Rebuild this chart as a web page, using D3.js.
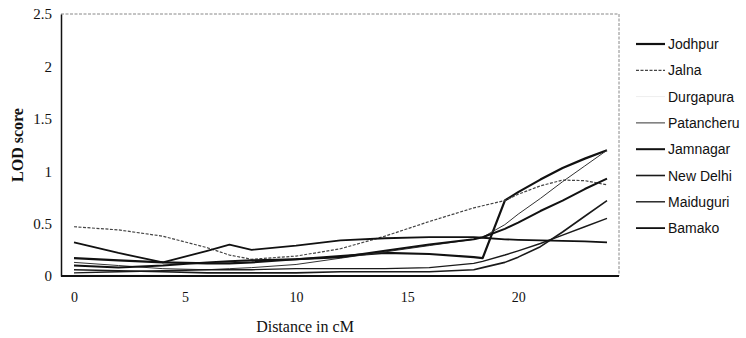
<!DOCTYPE html>
<html>
<head>
<meta charset="utf-8">
<script src="https://cdn.jsdelivr.net/npm/d3@7"></script>
<style>
  html, body { margin: 0; padding: 0; background: #fff; }
  svg { display: block; }
</style>
</head>
<body>
<svg id="chart" width="746" height="338"></svg>
<script>
// Map positions (cM) at which LOD scores were computed
const distance = [0, 2, 4, 6, 7, 8, 10, 12, 14, 16, 18, 18.4, 19.4, 20, 21, 22, 23, 24];

// LOD score per location
const jodhpur    = [0.17, 0.15, 0.13, 0.12, 0.12, 0.13, 0.16, 0.19, 0.22, 0.21, 0.18, 0.17, 0.72, 0.80, 0.92, 1.03, 1.12, 1.20];
const jalna      = [0.47, 0.44, 0.38, 0.27, 0.20, 0.16, 0.19, 0.26, 0.38, 0.52, 0.65, 0.67, 0.72, 0.78, 0.86, 0.915, 0.91, 0.87];
const durgapura  = [0.01, 0.01, 0.01, 0.00, 0.00, 0.00, 0.00, 0.00, 0.00, 0.00, 0.00, 0.00, 0.00, 0.00, 0.00, 0.00, 0.00, 0.00];
const patancheru = [0.13, 0.10, 0.07, 0.06, 0.07, 0.08, 0.11, 0.17, 0.23, 0.29, 0.35, 0.37, 0.49, 0.59, 0.74, 0.90, 1.05, 1.20];
const jamnagar   = [0.10, 0.08, 0.10, 0.13, 0.14, 0.15, 0.16, 0.18, 0.24, 0.30, 0.35, 0.37, 0.45, 0.51, 0.62, 0.72, 0.83, 0.93];
const newDelhi   = [0.06, 0.05, 0.04, 0.03, 0.03, 0.03, 0.03, 0.04, 0.04, 0.04, 0.06, 0.08, 0.13, 0.18, 0.28, 0.42, 0.57, 0.72];
const maiduguri  = [0.03, 0.04, 0.05, 0.06, 0.06, 0.06, 0.07, 0.07, 0.07, 0.08, 0.12, 0.14, 0.20, 0.24, 0.31, 0.39, 0.47, 0.55];
const bamako     = [0.32, 0.22, 0.13, 0.24, 0.30, 0.25, 0.29, 0.34, 0.36, 0.37, 0.37, 0.365, 0.35, 0.345, 0.34, 0.335, 0.33, 0.32];

const locations = ["Jodhpur", "Jalna", "Durgapura", "Patancheru", "Jamnagar", "New Delhi", "Maiduguri", "Bamako"];
const scores = [jodhpur, jalna, durgapura, patancheru, jamnagar, newDelhi, maiduguri, bamako];

const xTicks = [0, 5, 10, 15, 20];
const yTicks = [0, 0.5, 1, 1.5, 2, 2.5];
const yTickLabels = ["0", "0.5", "1", "1.5", "2", "2.5"];

// Stroke style for each location
const styles = [
  { color: "#111", width: 2.2, dash: null },
  { color: "#444", width: 1.2, dash: "3,1.5" },
  { color: "#eee", width: 1, dash: null },
  { color: "#333", width: 1, dash: null },
  { color: "#111", width: 2, dash: null },
  { color: "#1a1a1a", width: 1.6, dash: null },
  { color: "#1a1a1a", width: 1.4, dash: null },
  { color: "#111", width: 1.8, dash: null }
];

const svg = d3.select("#chart");
const frame = { left: 61, right: 619, top: 14, bottom: 276 };

const x = d3.scaleLinear().domain([0, 24]).range([74, 607]);
const y = d3.scaleLinear().domain([0, 2.5]).range([frame.bottom, frame.top]);

// Frame: dotted top and right edges
svg.append("path")
  .attr("d", `M${frame.left},${frame.top}H${frame.right}V${frame.bottom}`)
  .attr("fill", "none")
  .attr("stroke", "#888")
  .attr("stroke-width", 1)
  .attr("stroke-dasharray", "3,1.5");

// Series lines
const line = d3.line()
  .x((d, i) => x(distance[i]))
  .y(d => y(d))
  .curve(d3.curveLinear);

scores.forEach((vals, k) => {
  const s = styles[k];
  svg.append("path")
    .datum(vals)
    .attr("d", line)
    .attr("fill", "none")
    .attr("stroke", s.color)
    .attr("stroke-width", s.width)
    .attr("stroke-dasharray", s.dash)
    .attr("stroke-linejoin", "round");
});

// Y axis
const yAxis = svg.append("g")
  .attr("transform", `translate(${frame.left},0)`)
  .call(d3.axisLeft(y).tickValues(yTicks).tickSize(0).tickPadding(9)
    .tickFormat((d, i) => yTickLabels[i]));
yAxis.select(".domain").attr("stroke", "#111").attr("stroke-width", 1.5);
yAxis.selectAll("text")
  .attr("font-family", "'Liberation Serif', 'Times New Roman', serif")
  .attr("font-size", 15)
  .attr("fill", "#111");

// X axis
const xAxis = svg.append("g")
  .attr("transform", `translate(0,${frame.bottom})`)
  .call(d3.axisBottom(x).tickValues(xTicks).tickSize(0).tickPadding(16)
    .tickFormat(d3.format("d")));
xAxis.select(".domain")
  .attr("d", `M${frame.left},0H${frame.right}`)
  .attr("stroke", "#111").attr("stroke-width", 2.2);
xAxis.selectAll("text")
  .attr("font-family", "'Liberation Serif', 'Times New Roman', serif")
  .attr("font-size", 14)
  .attr("fill", "#111");

// Axis titles
svg.append("text")
  .attr("transform", "translate(23,145) rotate(-90)")
  .attr("text-anchor", "middle")
  .attr("font-family", "'Liberation Serif', 'Times New Roman', serif")
  .attr("font-weight", "bold")
  .attr("font-size", 16)
  .attr("fill", "#111")
  .text("LOD score");

svg.append("text")
  .attr("x", 305)
  .attr("y", 332)
  .attr("text-anchor", "middle")
  .attr("font-family", "'Liberation Serif', 'Times New Roman', serif")
  .attr("font-size", 16)
  .attr("fill", "#111")
  .text("Distance in cM");

// Legend
const legend = svg.append("g");
locations.forEach((name, k) => {
  const s = styles[k];
  const ly = 44 + k * 26.3;
  legend.append("line")
    .attr("x1", 636).attr("x2", 665)
    .attr("y1", ly).attr("y2", ly)
    .attr("stroke", s.color)
    .attr("stroke-width", s.width)
    .attr("stroke-dasharray", s.dash);
  legend.append("text")
    .attr("x", 668)
    .attr("y", ly + 5)
    .attr("font-family", "'Liberation Sans', Arial, sans-serif")
    .attr("font-size", 14)
    .attr("fill", "#111")
    .text(name);
});
</script>
</body>
</html>
